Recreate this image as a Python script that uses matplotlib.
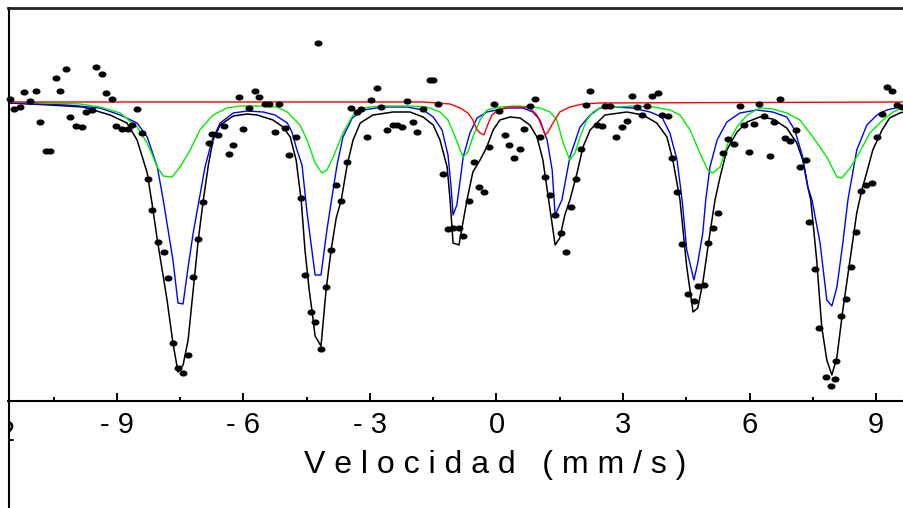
import matplotlib
matplotlib.use("Agg")
import matplotlib.pyplot as plt
from matplotlib.lines import Line2D
from matplotlib.markers import MarkerStyle
from matplotlib.transforms import Affine2D, Bbox, TransformedBbox

plt.rcParams['font.family'] = ['Liberation Sans', 'DejaVu Sans']

# measured spectrum: velocity (mm/s) and relative transmission (%)
vel = [-11.53, -11.43, -11.29, -11.20, -11.05, -10.91, -10.82, -10.68, -10.58, -10.44,
       -10.34, -10.20, -10.11, -9.96, -9.82, -9.73, -9.59, -9.49, -9.35, -9.25,
       -9.11, -9.02, -8.87, -8.73, -8.64, -8.52, -8.40, -8.26, -8.16, -8.02,
       -7.88, -7.78, -7.67, -7.55, -7.43, -7.31, -7.19, -7.07, -6.95, -6.81,
       -6.74, -6.60, -6.46, -6.34, -6.24, -6.10, -6.01, -5.86, -5.72, -5.63,
       -5.49, -5.39, -5.25, -5.15, -5.01, -4.92, -4.75, -4.63, -4.54, -4.40,
       -4.30, -4.23, -4.16, -4.04, -3.92, -3.80, -3.68, -3.54, -3.45, -3.31,
       -3.21, -3.07, -2.97, -2.83, -2.74, -2.59, -2.45, -2.36, -2.24, -2.12,
       -1.98, -1.88, -1.74, -1.58, -1.50, -1.39, -1.27, -1.15, -1.03, -0.89,
       -0.79, -0.65, -0.53, -0.41, -0.30, -0.18, -0.06, 0.06, 0.20, 0.30,
       0.41, 0.56, 0.65, 0.79, 0.91, 1.03, 1.15, 1.27, 1.39, 1.53,
       1.65, 1.77, 1.88, 2.00, 2.12, 2.22, 2.38, 2.50, 2.57, 2.69,
       2.83, 2.97, 3.09, 3.21, 3.33, 3.45, 3.57, 3.68, 3.83, 3.92,
       4.06, 4.16, 4.28, 4.40, 4.54, 4.68, 4.77, 4.92, 5.01, 5.13,
       5.25, 5.37, 5.49, 5.63, 5.77, 5.86, 5.98, 6.10, 6.22, 6.34,
       6.48, 6.58, 6.72, 6.84, 6.95, 7.10, 7.19, 7.33, 7.41, 7.55,
       7.64, 7.81, 7.93, 8.02, 8.05, 8.16, 8.28, 8.40, 8.52, 8.64,
       8.76, 8.90, 9.02, 9.14, 9.25, 9.37, 9.49, 9.61]
trans = [100.15, 99.65, 99.75, 100.50, 100.05, 100.55, 99.00, 97.55, 97.55, 101.20,
         100.55, 101.65, 99.25, 98.80, 98.75, 99.50, 99.60, 101.75, 101.40, 100.45,
         100.15, 98.80, 98.65, 98.65, 98.85, 99.65, 98.45, 96.15, 94.60, 93.00,
         92.50, 91.20, 87.95, 86.70, 86.45, 87.35, 91.25, 93.15, 95.00, 97.95,
         98.40, 98.35, 98.80, 97.40, 97.85, 100.25, 98.65, 99.70, 100.55, 100.25,
         99.90, 99.90, 98.50, 99.90, 98.70, 97.35, 98.25, 95.20, 91.35, 89.50,
         89.00, 102.95, 87.65, 90.75, 92.60, 95.85, 95.05, 97.00, 99.70, 99.50,
         99.65, 98.25, 100.10, 100.70, 99.75, 98.60, 98.85, 98.85, 98.75, 100.05,
         99.00, 98.50, 99.65, 101.10, 101.10, 99.90, 96.40, 93.65, 93.70, 93.70,
         93.30, 95.05, 97.00, 95.75, 95.50, 97.75, 99.90, 99.55, 98.35, 97.85,
         97.20, 97.65, 98.65, 99.80, 100.15, 98.25, 96.25, 95.35, 94.35, 93.45,
         92.50, 94.75, 96.15, 97.65, 99.85, 100.55, 98.85, 98.80, 99.80, 99.80,
         98.25, 98.75, 99.05, 100.30, 99.75, 99.35, 99.80, 100.30, 100.45, 99.35,
         99.30, 97.20, 95.50, 92.90, 90.40, 90.05, 90.80, 90.85, 92.95, 93.70,
         94.45, 97.45, 98.15, 97.90, 99.80, 98.85, 97.50, 98.90, 99.90, 99.30,
         97.30, 99.00, 100.15, 98.20, 98.05, 98.60, 96.75, 97.10, 94.00, 91.65,
         88.70, 86.25, 85.80, 86.15, 87.05, 89.30, 90.15, 91.75, 93.50, 95.55,
         95.85, 95.95, 98.25, 99.40, 100.75, 100.55, 99.85, 99.75]

# total fit (black)
fit_v = [-11.53, -10.58, -9.80, -9.16, -8.76, -8.52, -8.28, -8.16, -8.04, -7.81,
         -7.67, -7.55, -7.43, -7.31, -7.19, -7.07, -6.95, -6.83, -6.72, -6.55,
         -6.24, -5.91, -5.67, -5.30, -5.06, -4.89, -4.75, -4.63, -4.54, -4.44,
         -4.37, -4.30, -4.16, -4.04, -3.92, -3.80, -3.68, -3.54, -3.40, -3.23,
         -2.93, -2.45, -2.05, -1.74, -1.50, -1.34, -1.17, -1.10, -1.03, -0.89,
         -0.70, -0.56, -0.39, -0.23, -0.08, 0.08, 0.32, 0.56, 0.79, 0.96,
         1.10, 1.22, 1.39, 1.50, 1.62, 1.74, 1.91, 2.05, 2.22, 2.38,
         2.57, 3.09, 3.47, 3.80, 4.04, 4.18, 4.35, 4.51, 4.66, 4.77,
         4.89, 5.06, 5.18, 5.30, 5.46, 5.70, 5.94, 6.24, 6.55, 6.88,
         7.12, 7.26, 7.38, 7.45, 7.59, 7.71, 7.83, 7.95, 8.07, 8.21,
         8.38, 8.54, 8.66, 8.78, 8.92, 9.14, 9.32, 9.56, 9.66]
fit_t = [99.95, 99.85, 99.75, 99.35, 98.95, 98.10, 96.45, 94.85, 93.10, 90.10,
         87.95, 86.50, 86.85, 88.10, 90.60, 93.10, 95.10, 96.85, 98.10, 98.85,
         99.30, 99.40, 99.35, 99.10, 98.75, 98.25, 97.10, 95.10, 92.60, 90.60,
         89.50, 88.30, 87.80, 90.60, 92.60, 94.20, 95.10, 96.85, 98.10, 98.95,
         99.35, 99.50, 99.50, 99.25, 98.85, 98.10, 96.75, 95.10, 92.95, 92.85,
         95.10, 96.50, 97.10, 97.75, 98.60, 99.10, 99.25, 99.20, 98.85, 98.25,
         97.10, 95.35, 92.85, 93.20, 94.35, 95.10, 96.45, 97.75, 98.60, 98.95,
         99.35, 99.50, 99.35, 98.95, 98.25, 97.10, 95.10, 91.75, 89.50, 89.70,
         90.95, 93.45, 95.10, 96.25, 97.60, 98.50, 99.00, 99.25, 99.15, 98.70,
         97.95, 97.10, 95.75, 95.10, 92.10, 88.75, 87.10, 86.35, 87.25, 89.60,
         92.10, 94.45, 95.60, 96.50, 97.60, 98.60, 99.20, 99.45, 99.50]

# sextet 1 (blue)
s1_v = [-11.53, -10.18, -9.40, -8.92, -8.52, -8.28, -8.04, -7.90, -7.67, -7.55,
        -7.43, -7.31, -7.19, -7.05, -6.91, -6.74, -6.55, -6.24, -5.91, -5.53,
        -5.25, -4.96, -4.85, -4.73, -4.61, -4.49, -4.30, -4.16, -4.02, -3.90,
        -3.78, -3.64, -3.42, -3.16, -2.69, -2.12, -1.74, -1.50, -1.29, -1.15,
        -1.08, -1.03, -0.94, -0.86, -0.79, -0.63, -0.46, -0.23, 0.25, 0.63,
        0.86, 1.03, 1.20, 1.32, 1.39, 1.55, 1.74, 1.98, 2.22, 2.45,
        2.76, 3.23, 3.64, 3.92, 4.11, 4.28, 4.40, 4.51, 4.68, 4.77,
        4.89, 4.96, 5.06, 5.23, 5.46, 5.77, 6.17, 6.55, 6.88, 7.07,
        7.26, 7.38, 7.48, 7.67, 7.83, 7.95, 8.07, 8.21, 8.33, 8.54,
        8.78, 9.02, 9.25, 9.56, 9.66]
s1_t = [99.95, 99.85, 99.70, 99.35, 98.95, 98.25, 96.75, 95.10, 92.10, 89.95,
        89.90, 91.75, 93.45, 95.10, 96.75, 98.10, 98.95, 99.45, 99.55, 99.50,
        99.35, 98.95, 98.50, 97.60, 96.85, 94.45, 91.35, 91.35, 93.60, 95.25,
        96.85, 98.25, 99.20, 99.60, 99.75, 99.75, 99.60, 99.25, 98.60, 97.35,
        95.85, 94.35, 94.85, 96.10, 97.25, 98.45, 99.20, 99.50, 99.70, 99.70,
        99.50, 99.10, 98.10, 96.60, 94.35, 95.10, 97.25, 98.75, 99.35, 99.70,
        99.75, 99.70, 99.50, 99.25, 98.45, 97.10, 95.10, 92.60, 91.10, 91.95,
        93.45, 95.10, 96.75, 98.10, 99.00, 99.45, 99.60, 99.50, 99.25, 98.60,
        97.25, 95.75, 95.10, 92.95, 90.10, 89.80, 90.75, 92.95, 95.10, 97.60,
        98.85, 99.35, 99.60, 99.75, 99.80]

# sextet 2 (green)
s2_v = [-11.53, -9.87, -9.40, -8.92, -8.52, -8.28, -8.04, -7.90, -7.69, -7.50,
        -7.26, -7.03, -6.72, -6.39, -6.08, -5.60, -5.20, -4.96, -4.82, -4.66,
        -4.49, -4.30, -4.14, -4.02, -3.87, -3.64, -3.40, -3.16, -2.76, -2.05,
        -1.65, -1.34, -1.15, -0.98, -0.86, -0.79, -0.68, -0.56, -0.39, -0.23,
        0.08, 0.49, 0.79, 1.03, 1.27, 1.43, 1.58, 1.74, 1.86, 1.98,
        2.14, 2.29, 2.45, 3.23, 3.71, 4.11, 4.35, 4.59, 4.82, 5.01,
        5.13, 5.30, 5.49, 5.70, 5.94, 6.24, 6.55, 6.88, 7.19, 7.50,
        7.83, 8.07, 8.19, 8.38, 8.61, 8.85, 9.16, 9.40, 9.66]
s2_t = [100.00, 99.90, 99.75, 99.45, 98.75, 97.95, 96.75, 96.30, 96.25, 96.75,
        97.60, 98.60, 99.35, 99.70, 99.80, 99.80, 99.75, 99.50, 99.20, 98.85,
        98.10, 96.95, 96.45, 96.60, 97.25, 98.45, 99.35, 99.70, 99.80, 99.80,
        99.75, 99.50, 99.10, 98.25, 97.60, 97.25, 97.50, 98.25, 99.10, 99.60,
        99.75, 99.80, 99.75, 99.70, 99.50, 99.10, 97.95, 97.10, 97.45, 98.25,
        99.10, 99.50, 99.70, 99.80, 99.75, 99.60, 99.35, 98.60, 97.45, 96.60,
        96.45, 96.75, 97.95, 98.75, 99.35, 99.70, 99.65, 99.45, 99.10, 98.25,
        97.25, 96.25, 96.20, 96.70, 97.50, 98.45, 99.10, 99.50, 99.75]

# doublet (red)
d_v = [-11.53, -1.74, -1.41, -1.10, -0.86, -0.68, -0.56, -0.46, -0.39, -0.30,
       -0.23, -0.11, 0.08, 0.32, 0.56, 0.79, 0.96, 1.08, 1.15, 1.22,
       1.34, 1.50, 1.74, 2.05, 2.45, 9.66]
d_t = [100.00, 100.00, 99.95, 99.90, 99.70, 99.45, 99.10, 98.60, 98.45, 98.35,
       98.75, 99.35, 99.65, 99.75, 99.75, 99.70, 99.35, 98.75, 98.35, 98.50,
       98.95, 99.50, 99.75, 99.90, 99.95, 100.00]

major_ticks = [-9, -6, -3, 0, 3, 6, 9]
tick_labels = ['- 9', '- 6', '- 3', '0', '3', '6', '9']
minor_ticks = [-10.5, -7.5, -4.5, -1.5, 1.5, 4.5, 7.5]

fig = plt.figure(figsize=(9.04, 5.08), dpi=100)
ax = fig.add_axes([8 / 904, 107 / 508, 896 / 904, 393 / 508])

ax.plot(fit_v, fit_t, color='black', lw=1.1, zorder=2)
ax.plot(s1_v, s1_t, color='#0000ff', lw=1.0, zorder=3)
ax.plot(s2_v, s2_t, color='#00ee00', lw=1.0, zorder=3)
ax.plot(d_v, d_t, color='#ff0000', lw=1.0, zorder=4)

dot = MarkerStyle('o', transform=Affine2D().scale(1.4, 1.0))
ax.plot(vel, trans, linestyle='none', marker=dot, ms=3.4, color='black',
        zorder=5, clip_on=False)

ax.set_xlim(-11.58, 9.66)
ax.set_ylim(85.05, 104.7)

for side in ['top', 'left', 'right']:
    ax.spines[side].set_visible(False)
ax.spines['bottom'].set_linewidth(1.5)

ax.set_yticks([])
ax.set_xticks(major_ticks, labels=tick_labels)
ax.set_xticks(minor_ticks, minor=True)
ax.tick_params(axis='x', which='major', direction='in', length=6, width=1.4,
               labelsize=21, pad=7)
ax.tick_params(axis='x', which='minor', direction='in', length=3, width=1.4)

# label of the -12 tick, only its right edge shows inside the frame
t12 = ax.text(-12, -0.045, '- 12', transform=ax.get_xaxis_transform(),
              ha='center', va='top', fontsize=21)
t12.set_clip_box(TransformedBbox(Bbox([[9.5 / 904, 0], [1, 1]]), fig.transFigure))
t12.set_clip_on(True)

ax.set_xlabel('V e l o c i d a d   ( m m / s )', fontsize=23)
ax.xaxis.set_label_coords(0.5435, -0.125)

# frame around the figure (left and top edges)
fig.add_artist(Line2D([8.5 / 904, 8.5 / 904], [0, 500 / 508], color='black',
                      lw=1.5, transform=fig.transFigure))
fig.add_artist(Line2D([8 / 904, 1], [500 / 508, 500 / 508], color='#222222',
                      lw=2.0, transform=fig.transFigure))

fig.savefig('out.png', dpi=100)
